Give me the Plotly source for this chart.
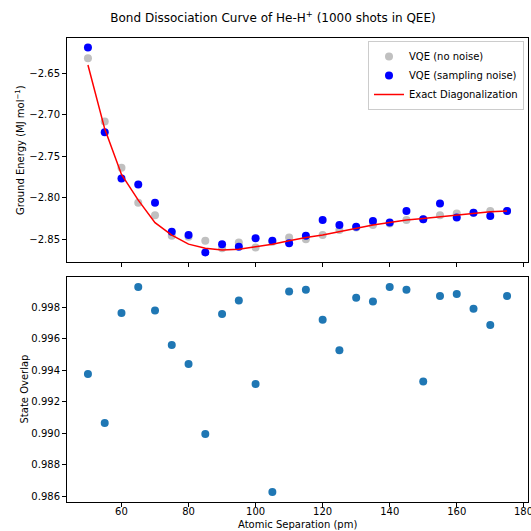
import plotly.graph_objects as go
from plotly.subplots import make_subplots

# Atomic separations (pm)
separation = [50, 55, 60, 65, 70, 75, 80, 85, 90, 95, 100, 105, 110,
              115, 120, 125, 130, 135, 140, 145, 150, 155, 160, 165, 170, 175]

# Ground energy (MJ/mol): VQE without noise
energy_vqe_ideal = [-2.632, -2.708, -2.764, -2.806, -2.821, -2.846, -2.847, -2.852,
                    -2.861, -2.854, -2.860, -2.853, -2.848, -2.850, -2.845, -2.839,
                    -2.836, -2.833, -2.831, -2.827, -2.826, -2.821, -2.819, -2.818,
                    -2.816, -2.816]

# Ground energy (MJ/mol): VQE with sampling noise
energy_vqe_shots = [-2.619, -2.721, -2.777, -2.784, -2.806, -2.841, -2.845, -2.866,
                    -2.856, -2.859, -2.849, -2.852, -2.855, -2.846, -2.827, -2.833,
                    -2.835, -2.828, -2.830, -2.816, -2.826, -2.807, -2.824, -2.818,
                    -2.822, -2.816]

# Ground energy (MJ/mol): exact diagonalization
energy_exact = [-2.640, -2.717, -2.772, -2.803, -2.830, -2.845, -2.856, -2.861,
                -2.863, -2.862, -2.859, -2.856, -2.852, -2.848, -2.845, -2.841,
                -2.837, -2.833, -2.830, -2.827, -2.825, -2.823, -2.821, -2.819,
                -2.817, -2.816]

# Overlap between VQE state and exact ground state
state_overlap = [0.99375, 0.99064, 0.99762, 0.99927, 0.99778, 0.99559, 0.99438, 0.98994,
                 0.99756, 0.99842, 0.99311, 0.98625, 0.99899, 0.99910, 0.99719, 0.99525,
                 0.99859, 0.99836, 0.99927, 0.99910, 0.99328, 0.99870, 0.99883, 0.99789,
                 0.99686, 0.99870]

energy_ticks = [-2.65, -2.70, -2.75, -2.80, -2.85]
overlap_ticks = [0.986, 0.988, 0.990, 0.992, 0.994, 0.996, 0.998]
separation_ticks = [60, 80, 100, 120, 140, 160, 180]

FONT = "DejaVu Sans"
W, H = 531, 531
ML, MR, MT, MB = 67, 3, 38, 29
PW, PH = W - ML - MR, H - MT - MB

fig = make_subplots(rows=2, cols=1, shared_xaxes=False, vertical_spacing=0.033)

fig.add_trace(go.Scatter(x=separation, y=energy_vqe_ideal, mode="markers",
                         marker=dict(color="silver", size=8),
                         name="VQE (no noise)"), row=1, col=1)
fig.add_trace(go.Scatter(x=separation, y=energy_vqe_shots, mode="markers",
                         marker=dict(color="blue", size=8),
                         name="VQE (sampling noise)"), row=1, col=1)
fig.add_trace(go.Scatter(x=separation, y=energy_exact, mode="lines",
                         line=dict(color="red", width=1.5),
                         name="Exact Diagonalization"), row=1, col=1)
fig.add_trace(go.Scatter(x=separation, y=state_overlap, mode="markers",
                         marker=dict(color="#1f77b4", size=8),
                         showlegend=False), row=2, col=1)

axis_style = dict(showline=True, mirror=True, linecolor="black", linewidth=1,
                  ticks="outside", ticklen=4, tickwidth=1, tickcolor="black",
                  showgrid=False, zeroline=False,
                  tickfont=dict(family=FONT, size=10, color="black"))

x_range = [43.75, 181.25]
fig.update_xaxes(range=x_range, tickvals=separation_ticks, **axis_style)
fig.update_xaxes(showticklabels=False, row=1, col=1)
fig.update_xaxes(ticklabelstandoff=-4, row=2, col=1)
fig.update_yaxes(range=[-2.8775, -2.6075], tickvals=energy_ticks, tickformat=".2f",
                 row=1, col=1, **axis_style)
fig.update_yaxes(range=[0.98562, 0.99991], tickvals=overlap_ticks, tickformat=".3f",
                 row=2, col=1, **axis_style)

top_lo = (H - MB - 262) / PH
bot_hi = (H - MB - 277) / PH
fig.update_layout(yaxis=dict(domain=[top_lo, 1]), yaxis2=dict(domain=[0, bot_hi]))

# The last x tick label runs past the right edge of the page; plotly drops it,
# so draw it as an annotation that simply gets cut at the edge.
edge_tick = separation_ticks[-1]

fig.update_layout(
    width=W, height=H,
    margin=dict(l=ML, r=MR, t=MT, b=MB, pad=0),
    paper_bgcolor="white", plot_bgcolor="white",
    font=dict(family=FONT, size=10, color="black"),
    title=dict(text="Bond Dissociation Curve of He-H<sup>+</sup> (1000 shots in QEE)",
               font=dict(family=FONT, size=12, color="black"),
               x=273 / W, xref="container", xanchor="center",
               y=1 - 18 / H, yref="container", yanchor="middle"),
    legend=dict(x=(524 - ML) / PW, y=(H - MB - 41) / PH, xanchor="right", yanchor="top",
                bgcolor="rgba(255,255,255,0.8)", bordercolor="#cccccc", borderwidth=1,
                itemwidth=30,
                font=dict(family=FONT, size=10, color="black"), tracegroupgap=0),
    annotations=[
        dict(text="Ground Energy (MJ mol<sup>−1</sup>)", textangle=-90,
             x=(20 - ML) / PW, y=(top_lo + 1) / 2, xref="paper", yref="paper",
             showarrow=False, font=dict(family=FONT, size=10, color="black"),
             xanchor="center", yanchor="middle"),
        dict(text="State Overlap", textangle=-90,
             x=(24 - ML) / PW, y=bot_hi / 2, xref="paper", yref="paper",
             showarrow=False, font=dict(family=FONT, size=10, color="black"),
             xanchor="center", yanchor="middle"),
        dict(text="Atomic Separation (pm)",
             x=0.5, y=(H - MB - 524) / PH, xref="paper", yref="paper",
             showarrow=False, font=dict(family=FONT, size=10, color="black"),
             xanchor="center", yanchor="middle"),
        dict(text=str(edge_tick), x=edge_tick, xref="x2", y=0, yref="paper",
             showarrow=False, font=dict(family=FONT, size=10, color="black"),
             xanchor="center", yanchor="top", yshift=-2),
    ],
)

fig.write_html("out.html")
